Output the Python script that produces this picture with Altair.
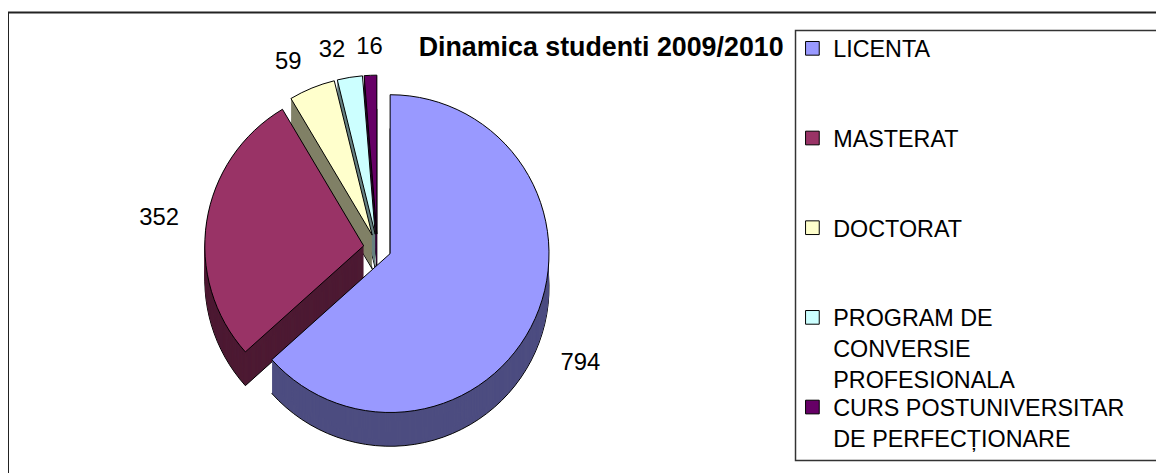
import altair as alt
import pandas as pd

# ---- data ----
categories = ["LICENTA", "MASTERAT", "DOCTORAT",
              "PROGRAM DE CONVERSIE PROFESIONALA",
              "CURS POSTUNIVERSITAR DE PERFECȚIONARE"]
values = [794, 352, 59, 32, 16]
legend_labels = ["LICENTA", "MASTERAT", "DOCTORAT",
                 "PROGRAM DE\nCONVERSIE\nPROFESIONALA",
                 "CURS POSTUNIVERSITAR\nDE PERFECȚIONARE"]
title_text = "Dinamica studenti 2009/2010"

# ---- styles ----
top_colors = ["#9999FF", "#993366", "#FFFFCC", "#CCFFFF", "#660066"]
side_colors = ["#4D4D80", "#4D1A33", "#808066", "#668080", "#330033"]
FONT = "Liberation Sans"

W, H = 1156, 465          # svg area (page minus 8px margin)
CX, CY = 372, 240         # pie centre (view px)
R = 160                   # pie radius
DEPTH = 34                # 3D thickness
EXP = 14                  # explode distance
LR = R + 28               # label radius

df = pd.DataFrame({"cat": categories, "value": values,
                   "label": legend_labels, "i": list(range(len(values)))})

base = (alt.Chart(df)
        .transform_joinaggregate(total="sum(value)")
        .transform_window(cum="sum(value)", sort=[alt.SortField("i")],
                          frame=[None, 0])
        .transform_calculate(
            start="(datum.cum - datum.value) / datum.total * 2 * PI",
            end="datum.cum / datum.total * 2 * PI")
        .transform_calculate(mid="(datum.start + datum.end) / 2")
        .transform_calculate(
            cx=f"{CX} + {EXP} * sin(datum.mid)",
            cy=f"{CY} - {EXP} * cos(datum.mid)"))

theta = alt.Theta("start:Q", scale=None, stack=None)
theta2 = alt.Theta2("end:Q")
xpos = alt.X("cx:Q", scale=None, axis=None)

layers = []

# outer frame (clipped on the right/bottom like the reference)
frame_df = pd.DataFrame({"k": [0]})
layers.append(alt.Chart(frame_df).mark_rect(
    fillOpacity=0, stroke="#222222", strokeWidth=2).encode(
    x=alt.value(0), x2=alt.value(W + 20),
    y=alt.value(3), y2=alt.value(H + 20)))

# side (depth) layers
for d in range(DEPTH, 0, -1):
    mk = dict(radius=R)
    if d == DEPTH:
        mk.update(stroke="black", strokeWidth=1)
    layers.append(
        base.transform_calculate(ys=f"datum.cy + {d}")
        .mark_arc(**mk)
        .encode(theta=theta, theta2=theta2, x=xpos,
                y=alt.Y("ys:Q", scale=None, axis=None),
                color=alt.Color("cat:N", legend=None,
                                scale=alt.Scale(domain=categories,
                                                range=side_colors))))

# top face
layers.append(
    base.mark_arc(radius=R, stroke="black", strokeWidth=1)
    .encode(theta=theta, theta2=theta2, x=xpos,
            y=alt.Y("cy:Q", scale=None, axis=None),
            color=alt.Color("cat:N", legend=None,
                            scale=alt.Scale(domain=categories,
                                            range=top_colors))))

# value labels
lab = base.transform_calculate(
    s="sin(datum.mid)", c="cos(datum.mid)").transform_calculate(
    lx=f"datum.cx + {LR} * datum.s",
    ly=f"datum.cy - {LR} * datum.c + (datum.c < 0 ? {DEPTH} : 0)")
for cond, al in [("datum.s < -0.1", "right"), ("datum.s > 0.1", "left"),
                 ("abs(datum.s) <= 0.1", "center")]:
    layers.append(
        lab.transform_filter(cond)
        .mark_text(align=al, baseline="middle", fontSize=24, font=FONT,
                   color="black")
        .encode(x=alt.X("lx:Q", scale=None, axis=None),
                y=alt.Y("ly:Q", scale=None, axis=None),
                text=alt.Text("value:Q")))

# title
layers.append(
    alt.Chart(pd.DataFrame({"t": [title_text]}))
    .mark_text(align="right", baseline="middle", fontSize=27,
               fontWeight="bold", font=FONT, color="black")
    .encode(x=alt.value(781), y=alt.value(39), text="t:N"))

# legend frame
layers.append(alt.Chart(frame_df).mark_rect(
    fillOpacity=0, stroke="#333333", strokeWidth=1.5).encode(
    x=alt.value(793), x2=alt.value(W + 20),
    y=alt.value(21), y2=alt.value(454)))

LX, LY0, LSTEP = 810, 39, 90.3
leg = alt.Chart(df).transform_calculate(
    ly=f"{LY0} + datum.i * {LSTEP}",
    ty=f"{LY0} + datum.i * {LSTEP} - 10")
layers.append(
    leg.mark_square(size=190, stroke="black", strokeWidth=1, opacity=1)
    .encode(x=alt.value(LX), y=alt.Y("ly:Q", scale=None, axis=None),
            color=alt.Color("cat:N", legend=None,
                            scale=alt.Scale(domain=categories,
                                            range=top_colors))))
layers.append(
    leg.mark_text(align="left", baseline="top", fontSize=23.5, font=FONT,
                  lineBreak="\n", lineHeight=31, color="black")
    .encode(x=alt.value(LX + 21), y=alt.Y("ty:Q", scale=None, axis=None),
            text="label:N"))

chart = (alt.layer(*layers)
         .resolve_scale(color="independent")
         .properties(width=W, height=H,
                     autosize=alt.AutoSizeParams(type="none"),
                     padding=0)
         .configure_view(stroke=None))

chart.save("out.html", embed_options={"renderer": "svg", "actions": False})
